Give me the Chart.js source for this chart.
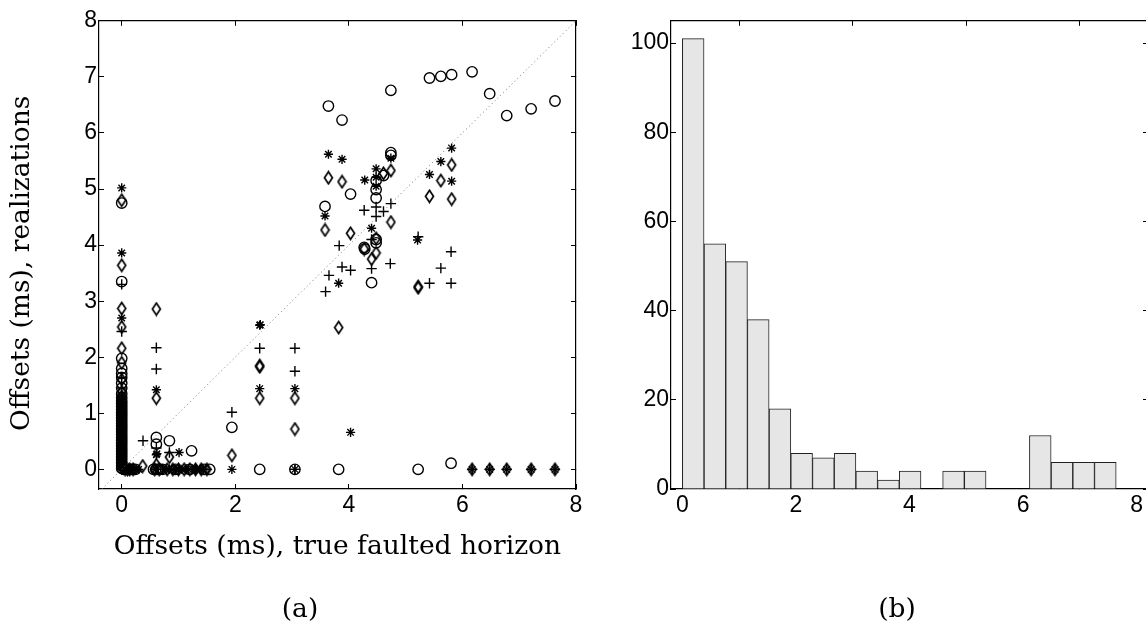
<!DOCTYPE html>
<html>
<head>
<meta charset="utf-8">
<script src="https://cdn.jsdelivr.net/npm/chart.js@4.4.1/dist/chart.umd.min.js"></script>
<style>
  html, body { margin: 0; padding: 0; background: #fff; }
  body { width: 1146px; height: 629px; overflow: hidden; position: relative; }
  canvas { position: absolute; top: 0; }
  #scatter { left: 0; }
  #hist { left: 600px; }
</style>
</head>
<body>
<canvas id="scatter" width="600" height="629"></canvas>
<canvas id="hist" width="560" height="629"></canvas>
<script>
// (a) offsets of the true faulted horizon (x) against the realizations (y), one marker per realization
const circlePts = [
  [0,4.75],[0,3.35],[0,1.98],[0,1.80],[0,1.71],[0,1.64],[0,1.54],[0,1.45],[0,1.35],[0,1.28],[0,1.22],
  [0,1.17],[0,1.12],[0,1.07],[0,1.02],[0,0.97],[0,0.92],[0,0.87],[0,0.82],[0,0.77],[0,0.72],[0,0.67],
  [0,0.62],[0,0.57],[0,0.52],[0,0.47],[0,0.42],[0,0.37],[0,0.32],[0,0.27],[0,0.22],[0,0.17],[0,0.12],
  [0,0.07],[0,0.02],
  [0.04,0],[0.08,0],[0.12,0],[0.16,0],[0.2,0],[0.24,0],[0.56,0],[0.6,0],[0.64,0],[0.68,0],[0.72,0],
  [0.95,0],[1.2,0],[1.45,0],[1.55,0],
  [0.61,0.57],[0.61,0.45],[0.84,0.51],[1.23,0.33],[1.94,0.75],[2.43,0],[3.05,0],[3.82,0],[5.22,0],[5.80,0.11],
  [3.64,6.48],[3.88,6.23],[4.74,6.76],[5.42,6.98],[5.62,7.01],[5.81,7.04],[6.17,7.09],[6.48,6.70],
  [6.78,6.31],[7.21,6.43],[7.63,6.57],
  [3.58,4.69],[4.03,4.91],[4.48,5.15],[4.48,4.99],[4.48,4.84],[4.61,5.24],[4.74,5.65],[4.74,5.60],
  [4.27,3.96],[4.28,3.93],[4.48,4.04],[4.48,4.10],[4.40,3.33]
];
const diamondPts = [
  [0,4.80],[0,3.64],[0,2.87],[0,2.54],[0,2.16],[0,1.90],[0,1.60],[0,1.38],[0,1.30],[0,1.25],[0,1.16],
  [0,1.08],[0,1.01],[0,0.95],[0,0.86],[0,0.78],[0,0.72],[0,0.66],[0,0.60],[0,0.55],[0,0.46],[0,0.40],
  [0,0.33],[0,0.28],[0,0.20],[0,0.15],[0,0.08],[0,0.03],
  [0.06,0],[0.1,0],[0.14,0],[0.2,0],[0.37,0.06],[0.58,0],[0.66,0],[0.8,0],[0.9,0],[1.0,0],[1.1,0],[1.2,0],
  [1.3,0],[1.4,0],[1.5,0],
  [0.61,2.86],[0.61,1.27],[0.61,0.08],[0.84,0.22],[1.94,0.25],[2.43,1.83],[2.43,1.85],[2.43,1.27],[3.05,1.27],
  [3.05,0.72],[3.82,2.53],[5.22,3.24],[5.22,3.26],
  [3.64,5.20],[3.88,5.13],[3.58,4.27],[4.03,4.21],[4.48,4.12],[4.27,3.93],[4.40,3.75],[4.48,3.86],
  [4.61,5.28],[4.74,5.33],[4.74,4.41],[5.42,4.87],[5.62,5.15],[5.81,5.43],[5.81,4.82],
  [6.17,0],[6.48,0],[6.78,0],[7.21,0],[7.63,0]
];
const starPts = [
  [0,5.02],[0,3.86],[0,2.70],[0,1.25],[0,1.20],[0,1.15],[0,1.06],[0,1.00],[0,0.94],[0,0.88],[0,0.80],
  [0,0.70],[0,0.62],[0,0.55],[0,0.45],[0,0.40],[0,0.35],[0,0.26],[0,0.18],[0,0.08],[0,0],
  [0.1,0],[0.15,0],[0.22,0],[0.3,0],[0.6,0],[0.78,0],[0.84,0],[0.88,0],[0.95,0],[1.0,0],[1.06,0],[1.12,0],
  [1.18,0],[1.25,0],[1.32,0],[1.38,0],[1.44,0],
  [0.61,1.42],[0.61,0.26],[0.62,0.28],[1.01,0.30],[1.94,0],[2.43,2.57],[2.44,2.58],[2.43,1.44],[3.05,1.44],[3.05,0],
  [3.64,5.62],[3.88,5.53],[3.58,4.52],[3.82,3.32],[4.03,0.66],[4.28,5.16],[4.48,5.36],[4.48,5.21],
  [4.48,5.05],[4.40,4.30],[4.74,5.55],[5.21,4.09],[5.42,5.26],[5.62,5.49],[5.81,5.73],[5.81,5.14],
  [6.17,0],[6.48,0],[6.78,0],[7.21,0],[7.63,0]
];
const plusPts = [
  [0,3.30],[0,2.46],[0,1.64],[0,1.45],[0,1.26],[0,1.18],[0,1.10],[0,1.04],[0,0.98],[0,0.91],[0,0.85],
  [0,0.77],[0,0.70],[0,0.60],[0,0.53],[0,0.48],[0,0.42],[0,0.36],[0,0.25],[0,0.16],[0,0.10],[0,0],
  [0.05,0],[0.13,0],[0.2,0],[0.62,0],[0.72,0],[0.92,0],[1.02,0],[1.14,0],[1.3,0],[1.4,0],[1.5,0],
  [0.375,0.51],[0.61,2.17],[0.61,1.79],[0.61,0.38],[0.84,0.30],[1.94,1.02],[2.43,2.16],[3.05,2.16],
  [3.05,1.75],[3.05,0],
  [3.59,3.17],[3.65,3.46],[3.83,3.99],[3.88,3.61],[4.03,3.55],[4.40,3.58],[4.73,3.67],[5.22,4.15],
  [5.42,3.32],[5.62,3.59],[5.80,3.32],[5.80,3.88],
  [4.27,4.62],[4.61,4.60],[4.48,4.68],[4.48,4.51],[4.74,4.74],[4.40,4.10],
  [6.17,0],[6.48,0],[6.78,0],[7.21,0],[7.63,0]
];
// y = x reference line
const refLineX = [-0.4, 8];
const refLineY = [-0.4, 8];

// (b) histogram of the offsets
const binCenters = [0.191, 0.573, 0.955, 1.337, 1.719, 2.101, 2.483, 2.865, 3.247, 3.629,
                    4.011, 4.393, 4.775, 5.157, 5.539, 5.921, 6.303, 6.685, 7.067, 7.449];
const binCounts = [101, 55, 51, 38, 18, 8, 7, 8, 4, 2, 4, 0, 4, 4, 0, 0, 12, 6, 6, 6];

const scatterXTicks = [0, 2, 4, 6, 8];
const scatterYTicks = [0, 1, 2, 3, 4, 5, 6, 7, 8];
const histXTicks = [0, 2, 4, 6, 8];
const histYTicks = [0, 20, 40, 60, 80, 100];

Chart.defaults.font.family = '"Liberation Sans", Arial, sans-serif';
Chart.defaults.font.size = 23;
Chart.defaults.color = '#000';

const serif = { family: '"DejaVu Serif", serif', size: 26.5 };
const markerLine = 1.4;

// matlab style diamond marker, a bit taller than wide
function diamondMarker(w, h) {
  const c = document.createElement('canvas');
  c.width = w + 3; c.height = h + 3;
  const g = c.getContext('2d');
  g.strokeStyle = '#000';
  g.lineWidth = 1.7;
  g.beginPath();
  g.moveTo(c.width / 2, 1.5);
  g.lineTo(c.width - 1.5, c.height / 2);
  g.lineTo(c.width / 2, c.height - 1.5);
  g.lineTo(1.5, c.height / 2);
  g.closePath();
  g.stroke();
  return c;
}

function frameAxis(pos, min, max, ticks, size, showLabels, pad) {
  return {
    type: 'linear',
    position: pos,
    min: min,
    max: max,
    afterBuildTicks: s => { s.ticks = ticks.map(v => ({ value: v })); },
    afterFit: s => { if (s.isHorizontal()) s.height = size; else s.width = size; },
    grid: { drawOnChartArea: false, drawTicks: true, tickLength: -5, color: '#000', lineWidth: 1 },
    border: { display: true, color: '#000', width: 1.2 },
    ticks: { display: showLabels, padding: pad }
  };
}

// draws "(a)" / "(b)" under each panel
const panelLabel = {
  id: 'panelLabel',
  afterDraw(chart, args, opts) {
    const ctx = chart.ctx;
    ctx.save();
    ctx.font = serif.size + 'px ' + serif.family;
    ctx.fillStyle = '#000';
    ctx.textAlign = 'center';
    ctx.textBaseline = 'middle';
    ctx.fillText(opts.text, opts.x, opts.y);
    ctx.restore();
  }
};

function toPoints(pairs) {
  return pairs.map(p => ({ x: p[0], y: p[1] }));
}

function markerSet(pairs, style, radius) {
  return {
    data: toPoints(pairs),
    pointStyle: style,
    pointRadius: radius,
    pointHoverRadius: radius,
    borderColor: '#000',
    backgroundColor: 'rgba(0,0,0,0)',
    borderWidth: markerLine
  };
}

const sx = frameAxis('bottom', -0.4, 8, scatterXTicks, 140, true, 8);
sx.title = { display: true, text: 'Offsets (ms), true faulted horizon', font: serif, padding: { top: 0, bottom: 66 } };
const sy = frameAxis('left', -0.35, 8, scatterYTicks, 99, true, 7);
sy.title = { display: true, text: 'Offsets (ms), realizations\u00a0\u00a0', font: serif, padding: { top: 6, bottom: 0 } };

new Chart(document.getElementById('scatter'), {
  type: 'scatter',
  data: {
    datasets: [
      {
        data: refLineX.map((x, i) => ({ x: x, y: refLineY[i] })),
        showLine: true,
        borderColor: '#777',
        borderWidth: 1,
        borderDash: [1, 3],
        pointRadius: 0,
        pointHoverRadius: 0
      },
      markerSet(circlePts, 'circle', 5.2),
      markerSet(diamondPts, diamondMarker(8, 12), 5),
      markerSet(starPts, 'star', 4.6),
      markerSet(plusPts, 'cross', 5.2)
    ]
  },
  options: {
    responsive: false,
    animation: false,
    layout: { padding: { left: 0, top: 15, right: 24, bottom: 0 } },
    scales: {
      x: sx,
      y: sy,
      x2: frameAxis('top', -0.4, 8, scatterXTicks, 0, false, 0),
      y2: frameAxis('right', -0.35, 8, scatterYTicks, 0, false, 0)
    },
    plugins: {
      legend: { display: false },
      tooltip: { enabled: false },
      panelLabel: { text: '(a)', x: 300, y: 610 }
    }
  },
  plugins: [panelLabel]
});

const hx = frameAxis('bottom', -0.2, 8.2, histXTicks, 140, true, 8);
hx.offset = false;
const hx2 = frameAxis('top', -0.2, 8.2, histXTicks, 0, false, 0);
hx2.offset = false;

new Chart(document.getElementById('hist'), {
  type: 'bar',
  data: {
    datasets: [{
      data: binCenters.map((c, i) => ({ x: c, y: binCounts[i] })),
      backgroundColor: '#e6e6e6',
      borderColor: '#222',
      borderWidth: 1,
      barPercentage: 1,
      categoryPercentage: 1
    }]
  },
  options: {
    responsive: false,
    animation: false,
    layout: { padding: { left: 0, top: 16, right: 12, bottom: 0 } },
    scales: {
      x: hx,
      y: frameAxis('left', 0, 105, histYTicks, 71, true, 7),
      x2: hx2,
      y2: frameAxis('right', 0, 105, histYTicks, 0, false, 0)
    },
    plugins: {
      legend: { display: false },
      tooltip: { enabled: false },
      panelLabel: { text: '(b)', x: 297, y: 610 }
    }
  },
  plugins: [panelLabel]
});
</script>
</body>
</html>
